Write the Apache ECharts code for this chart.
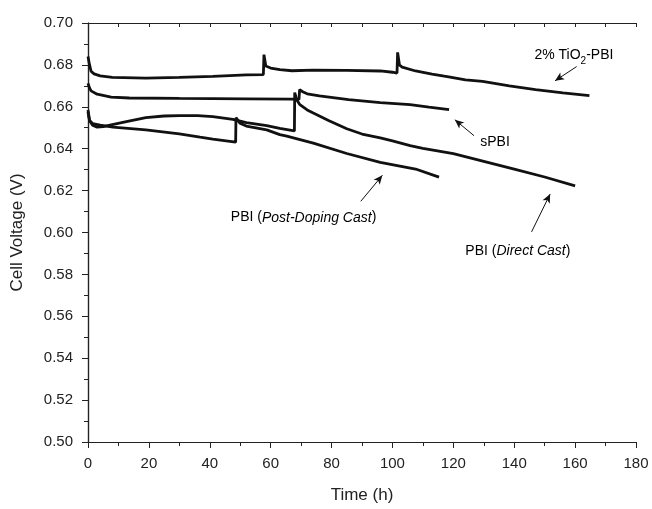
<!DOCTYPE html>
<html>
<head>
<meta charset="utf-8">
<script src="https://cdn.jsdelivr.net/npm/echarts@6/dist/echarts.min.js"></script>
<style>html,body{margin:0;padding:0;background:#fff}#c{width:652px;height:509px}</style>
</head>
<body>
<div id="c"></div>
<script>
// ---- data (time in h, cell voltage in V) ----
var tio2 = [[0,0.684],[0.5,0.680],[1,0.677],[2,0.6757],[4,0.6748],[8,0.674],[19,0.6737],[30,0.674],[41,0.6745],[52,0.6752],[57.6,0.6754],[57.8,0.6849],[58.4,0.6795],[60,0.6785],[63,0.6777],[67,0.6772],[74,0.6775],[85,0.6774],[96,0.6771],[100,0.6765],[101.5,0.6761],[101.7,0.686],[102.3,0.680],[103.2,0.6789],[107.6,0.6771],[113,0.6756],[117,0.6746],[117.5,0.6739],[118,0.6744],[124,0.6729],[129.6,0.6721],[138.4,0.6700],[147,0.6682],[156,0.6666],[164.7,0.6653]];
var spbi = [[0,0.6712],[0.5,0.669],[1,0.6676],[3,0.6660],[7.6,0.6646],[13.6,0.6642],[30,0.6640],[52,0.6638],[67,0.6637],[69.3,0.6635],[69.5,0.6682],[70.5,0.6672],[72,0.6662],[76,0.6652],[85.6,0.6634],[96,0.6620],[105.8,0.6610],[112,0.6598],[118.6,0.6586]];
var pbiDirect = [[0,0.6585],[0.5,0.6535],[1.5,0.6512],[3,0.6503],[5,0.6505],[8,0.6515],[13,0.6530],[19,0.6548],[25,0.6556],[30,0.6558],[36,0.6558],[41,0.6553],[47.6,0.6540],[52,0.6525],[58.7,0.6510],[63,0.6497],[67.8,0.6485],[67.9,0.6668],[68.6,0.6633],[69.6,0.6610],[72,0.6585],[74,0.6570],[79,0.6535],[85,0.6495],[90,0.6470],[96,0.6452],[100,0.6437],[105.8,0.6415],[110,0.6402],[120,0.6376],[130,0.6340],[140,0.6303],[150,0.6265],[160,0.6223]];
var pbiPost = [[0,0.6575],[0.5,0.6535],[1.5,0.6520],[4,0.6512],[8.2,0.6503],[19,0.6490],[30,0.6471],[36.8,0.6455],[41,0.6446],[48.5,0.6431],[48.6,0.6548],[49.9,0.6522],[52,0.6508],[58.7,0.6490],[63,0.6467],[65.3,0.6460],[74,0.6427],[85,0.6377],[96,0.6335],[107.6,0.6303],[115.3,0.6264]];
var xTicks = [0,20,40,60,80,100,120,140,160,180];
var yTicks = [0.50,0.52,0.54,0.56,0.58,0.60,0.62,0.64,0.66,0.68,0.70];

// annotations in data coordinates
var arrows = [
  [[160.5,0.6792],[153.4,0.6724]],
  [[126.8,0.6462],[120.5,0.6538]],
  [[89.6,0.6149],[96.7,0.6273]],
  [[145.7,0.6003],[151.8,0.6184]]
];
var labels = [
  {pos:[159.6,0.6848], text:'{n|2% TiO}{s|2}{n|-PBI}'},
  {pos:[133.7,0.6429], text:'{n|sPBI}'},
  {pos:[70.8,0.6071], text:'{n|PBI (}{i|Post-Doping Cast}{n|)}'},
  {pos:[141.2,0.5910], text:'{n|PBI (}{i|Direct Cast}{n|)}'}
];

var FONT = '"Liberation Sans", Arial, sans-serif';
var chart = echarts.init(document.getElementById('c'));
var axisCol = '#222';
function mkSeries(name, data, idx){
  var s = {name:name, type:'line', data:data, showSymbol:false, symbol:'none',
    lineStyle:{color:'#111', width:2.8}, xAxisIndex:0, yAxisIndex:0, silent:true, z:3};
  if (idx === 0) {
    s.markLine = {silent:true, animation:false, symbol:['none','arrow'], symbolSize:[6,9],
      lineStyle:{color:'#111', width:1, type:'solid'}, label:{show:false},
      data: arrows.map(function(a){return [{coord:a[0]},{coord:a[1]}];})};
  }
  return s;
}
chart.setOption({
  animation:false,
  backgroundColor:'#fff',
  grid:{left:88, right:16, top:23, bottom:66},
  textStyle:{fontFamily:FONT},
  xAxis:[
    {type:'value', min:0, max:180, interval:20, position:'bottom',
     name:'Time (h)', nameLocation:'middle', nameGap:45,
     nameTextStyle:{fontSize:17, color:axisCol, fontFamily:FONT},
     axisLine:{lineStyle:{color:axisCol, width:1.2}},
     axisTick:{show:true, inside:false, length:6, lineStyle:{color:axisCol}},
     minorTick:{show:true, splitNumber:2, length:4, lineStyle:{color:axisCol}},
     axisLabel:{fontSize:15, color:axisCol, margin:14, fontFamily:FONT},
     splitLine:{show:false}, minorSplitLine:{show:false}},
    {type:'value', min:0, max:180, interval:10, position:'top',
     axisLine:{lineStyle:{color:axisCol, width:1.2}},
     axisTick:{show:true, inside:true, length:4, lineStyle:{color:axisCol}},
     axisLabel:{show:false}, splitLine:{show:false}}
  ],
  yAxis:[
    {type:'value', min:0.5, max:0.7, interval:0.02, position:'left',
     name:'Cell Voltage (V)', nameLocation:'middle', nameGap:62,
     nameTextStyle:{fontSize:17, color:axisCol, fontFamily:FONT},
     axisLine:{show:true, lineStyle:{color:axisCol, width:1.2}},
     axisTick:{show:true, inside:false, length:6, lineStyle:{color:axisCol}},
     minorTick:{show:true, splitNumber:2, length:4, lineStyle:{color:axisCol}},
     axisLabel:{fontSize:15, color:axisCol, margin:15, fontFamily:FONT,
       formatter:function(v){return v.toFixed(2);}},
     splitLine:{show:false}, minorSplitLine:{show:false}},
    {type:'value', min:0.5, max:0.7, interval:0.01, position:'right',
     axisLine:{show:true, lineStyle:{color:axisCol, width:1.2}},
     axisTick:{show:true, inside:true, length:4, lineStyle:{color:axisCol}},
     axisLabel:{show:false}, splitLine:{show:false}}
  ],
  series:[
    mkSeries('2% TiO2-PBI', tio2, 0),
    mkSeries('sPBI', spbi, 1),
    mkSeries('PBI (Direct Cast)', pbiDirect, 2),
    mkSeries('PBI (Post-Doping Cast)', pbiPost, 3)
  ]
});
var rich = {
  n:{fontSize:14, color:'#222', fontFamily:FONT, lineHeight:22, verticalAlign:'middle'},
  i:{fontSize:14, color:'#222', fontFamily:FONT, fontStyle:'italic', lineHeight:22, verticalAlign:'middle'},
  s:{fontSize:10, color:'#222', fontFamily:FONT, lineHeight:22, verticalAlign:'bottom'}
};
chart.setOption({
  graphic: labels.map(function(l){
    var p = chart.convertToPixel({gridIndex:0}, l.pos);
    return {type:'text', x:p[0], y:p[1], silent:true, z:10,
      style:{text:l.text, rich:rich, align:'center', verticalAlign:'middle'}};
  })
});
</script>
</body>
</html>
